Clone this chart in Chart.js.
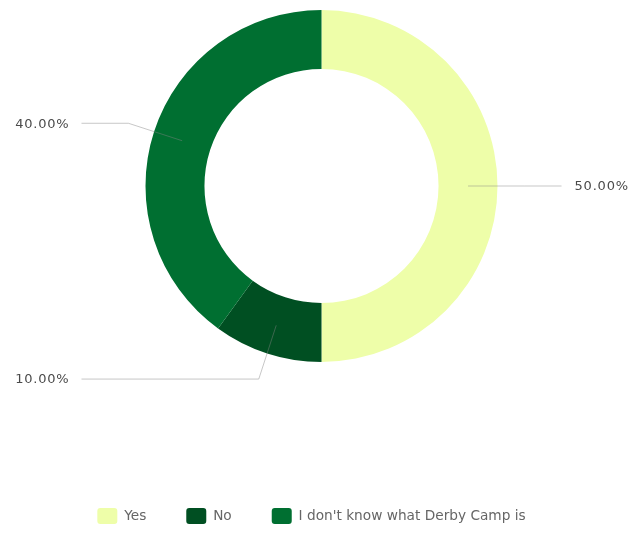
<!DOCTYPE html>
<html>
<head>
<meta charset="utf-8">
<script src="https://cdn.jsdelivr.net/npm/chart.js@4"></script>
<style>
  html, body { margin: 0; padding: 0; background: #fff; }
  #wrap { width: 633px; height: 535px; }
</style>
</head>
<body>
<div id="wrap"><canvas id="derbyChart" width="633" height="535"></canvas></div>
<script>
// Survey answers
const answers = ['Yes', 'No', "I don't know what Derby Camp is"];
const shares = [50, 10, 40];
const sliceColors = ['#eefea9', '#004f22', '#006f31'];

const labelFont = '13px "DejaVu Sans", sans-serif';

// leader lines + percentage labels next to each slice
const calloutPlugin = {
    id: 'callouts',
    afterDatasetsDraw(chart) {
        const ctx = chart.ctx;
        const meta = chart.getDatasetMeta(0);
        const total = shares.reduce((a, b) => a + b, 0);
        ctx.save();
        meta.data.forEach((arc, i) => {
            const { x, y, startAngle, endAngle, innerRadius, outerRadius } =
                arc.getProps(['x', 'y', 'startAngle', 'endAngle', 'innerRadius', 'outerRadius'], true);
            const mid = (startAngle + endAngle) / 2;
            const rIn = (innerRadius + outerRadius) / 2;
            const rOut = outerRadius + 27;
            const right = Math.cos(mid) > 0.0001;
            const p1 = { x: x + Math.cos(mid) * rIn, y: y + Math.sin(mid) * rIn };
            const p2 = { x: x + Math.cos(mid) * rOut, y: y + Math.sin(mid) * rOut };
            const endX = right ? x + 240 : x - 240;

            ctx.beginPath();
            ctx.moveTo(p1.x, p1.y);
            ctx.lineTo(p2.x, p2.y);
            ctx.lineTo(endX, p2.y);
            ctx.strokeStyle = 'rgba(130, 130, 130, 0.45)';
            ctx.lineWidth = 1;
            ctx.stroke();

            const pct = (shares[i] / total * 100).toFixed(2) + '%';
            ctx.font = labelFont;
            ctx.letterSpacing = '0.8px';
            ctx.fillStyle = '#4a4a4a';
            ctx.textBaseline = 'middle';
            ctx.textAlign = right ? 'left' : 'right';
            ctx.fillText(pct, right ? endX + 13 : endX - 12, p2.y + 1);
        });
        ctx.restore();
    }
};

// legend sits a little left of the doughnut's centre in the original
const legendNudge = {
    id: 'legendNudge',
    afterLayout(chart) {
        chart.legend.left -= 10;
        chart.legend.right -= 10;
    }
};

const initDerbyChart = () => {
    const ctx = document.getElementById('derbyChart').getContext('2d');
    new Chart(ctx, {
        type: 'doughnut',
        data: {
            labels: answers,
            datasets: [{
                data: shares,
                backgroundColor: sliceColors,
                borderWidth: 0,
                hoverOffset: 0
            }]
        },
        options: {
            responsive: false,
            animation: false,
            cutout: '66.5%',
            layout: {
                padding: { top: 10, bottom: 1, left: 10, right: 0 }
            },
            plugins: {
                tooltip: { enabled: false },
                legend: {
                    position: 'bottom',
                    title: {
                        display: true,
                        text: '',
                        font: { size: 10, lineHeight: 1 },
                        padding: { top: 96, bottom: 0 }
                    },
                    labels: {
                        boxWidth: 20,
                        boxHeight: 16,
                        useBorderRadius: true,
                        borderRadius: 3,
                        padding: 40,
                        color: '#666',
                        font: { family: '"DejaVu Sans", sans-serif', size: 13.7 }
                    }
                }
            }
        },
        plugins: [calloutPlugin, legendNudge]
    });
};

document.addEventListener('DOMContentLoaded', initDerbyChart);
</script>
</body>
</html>
